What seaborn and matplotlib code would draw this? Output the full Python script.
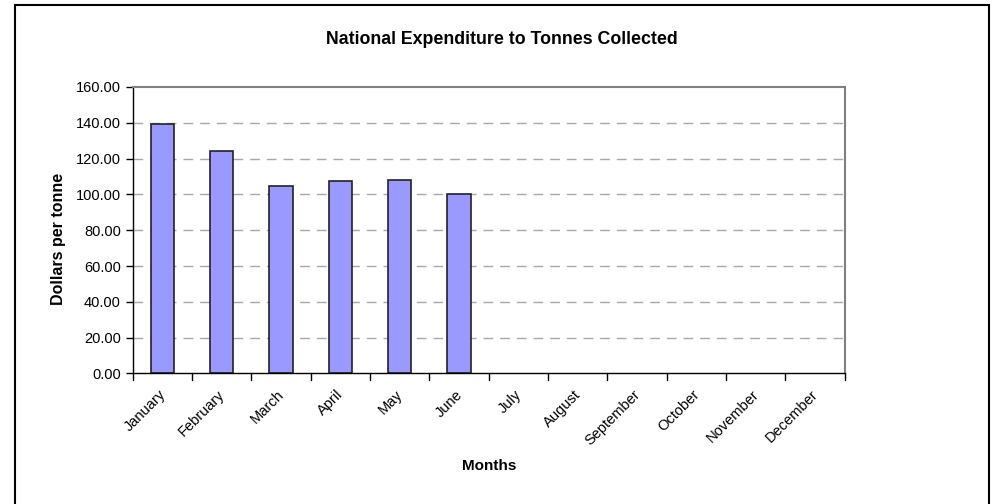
import numpy as np
import pandas as pd
import matplotlib
matplotlib.use("Agg")
import matplotlib.pyplot as plt
import matplotlib.transforms as mtransforms
import seaborn as sns

# ======================================================
# DATA
# ======================================================

months = [
    "January", "February", "March", "April", "May", "June",
    "July", "August", "September", "October", "November", "December"
]

dollars_per_tonne = [
    139.5, 124.2, 104.9, 107.5, 108.0, 100.1,
    np.nan, np.nan, np.nan, np.nan, np.nan, np.nan
]

y_ticks = [0, 20, 40, 60, 80, 100, 120, 140, 160]

df = pd.DataFrame({"Month": months, "Value": dollars_per_tonne})

# ======================================================
# STYLE
# ======================================================

sns.set_style("white")
plt.rcParams["font.family"] = ["Liberation Sans", "DejaVu Sans"]
plt.rcParams["text.color"] = "black"
plt.rcParams["axes.labelcolor"] = "black"
plt.rcParams["xtick.color"] = "black"
plt.rcParams["ytick.color"] = "black"

fig = plt.figure(figsize=(9.97, 5.04), dpi=100)
ax = fig.add_axes([0.1331, 0.2590, 0.7141, 0.5684])

sns.barplot(
    data=df,
    x="Month",
    y="Value",
    order=months,
    color="#9999FF",
    saturation=1,
    width=0.39,
    edgecolor="#222222",
    linewidth=1.2,
    ax=ax
)

# ======================================================
# AXES
# ======================================================

ax.set_xlim(-0.5, len(months) - 0.5)
ax.set_ylim(0, 160)
ax.set_yticks(y_ticks)
ax.set_yticklabels([f"{v:.2f}" for v in y_ticks], fontsize=10.5)

ax.set_xticks(range(len(months)))
ax.set_xticklabels(months, rotation=45, ha="right", va="top",
                   rotation_mode="anchor", fontsize=10.5)
ax.tick_params(axis="x", length=0, pad=10)
shift = mtransforms.ScaledTranslation(-4 / 100, 0, fig.dpi_scale_trans)
for lab in ax.get_xticklabels():
    lab.set_transform(lab.get_transform() + shift)

# tick marks between categories
for b in np.arange(-0.5, len(months) + 0.5, 1):
    ax.plot([b, b], [0, -0.022], transform=ax.get_xaxis_transform(),
            color="black", lw=1, clip_on=False)

ax.tick_params(axis="y", length=5, width=1, color="black", direction="out", left=True)

for v in y_ticks[1:-1]:
    ax.axhline(v, color="#A8A8A8", lw=1, ls=(0, (7, 5)), zorder=0)

for side in ["top", "right"]:
    ax.spines[side].set_color("#808080")
    ax.spines[side].set_linewidth(1.5)
ax.spines["left"].set_color("black")
ax.spines["bottom"].set_color("black")
ax.spines["left"].set_linewidth(1)
ax.spines["bottom"].set_linewidth(1)

ax.set_xlabel("")
ax.set_ylabel("Dollars per tonne", fontsize=11.5, fontweight="bold")
ax.yaxis.set_label_coords(-0.094, 0.47)

fig.text(489 / 997, 1 - 466 / 504, "Months",
         ha="center", va="center", fontsize=11, fontweight="bold")

fig.text(502 / 997, 1 - 40 / 504, "National Expenditure to Tonnes Collected",
         ha="center", va="center", fontsize=12.8, fontweight="bold")

# outer chart border
border = plt.Rectangle((15 / 997, -0.05), (989 - 15) / 997, 1.05 - 5 / 504,
                       transform=fig.transFigure, fill=False,
                       edgecolor="black", lw=1.5)
fig.patches.append(border)

plt.savefig("out.png", dpi=100)
plt.close()
